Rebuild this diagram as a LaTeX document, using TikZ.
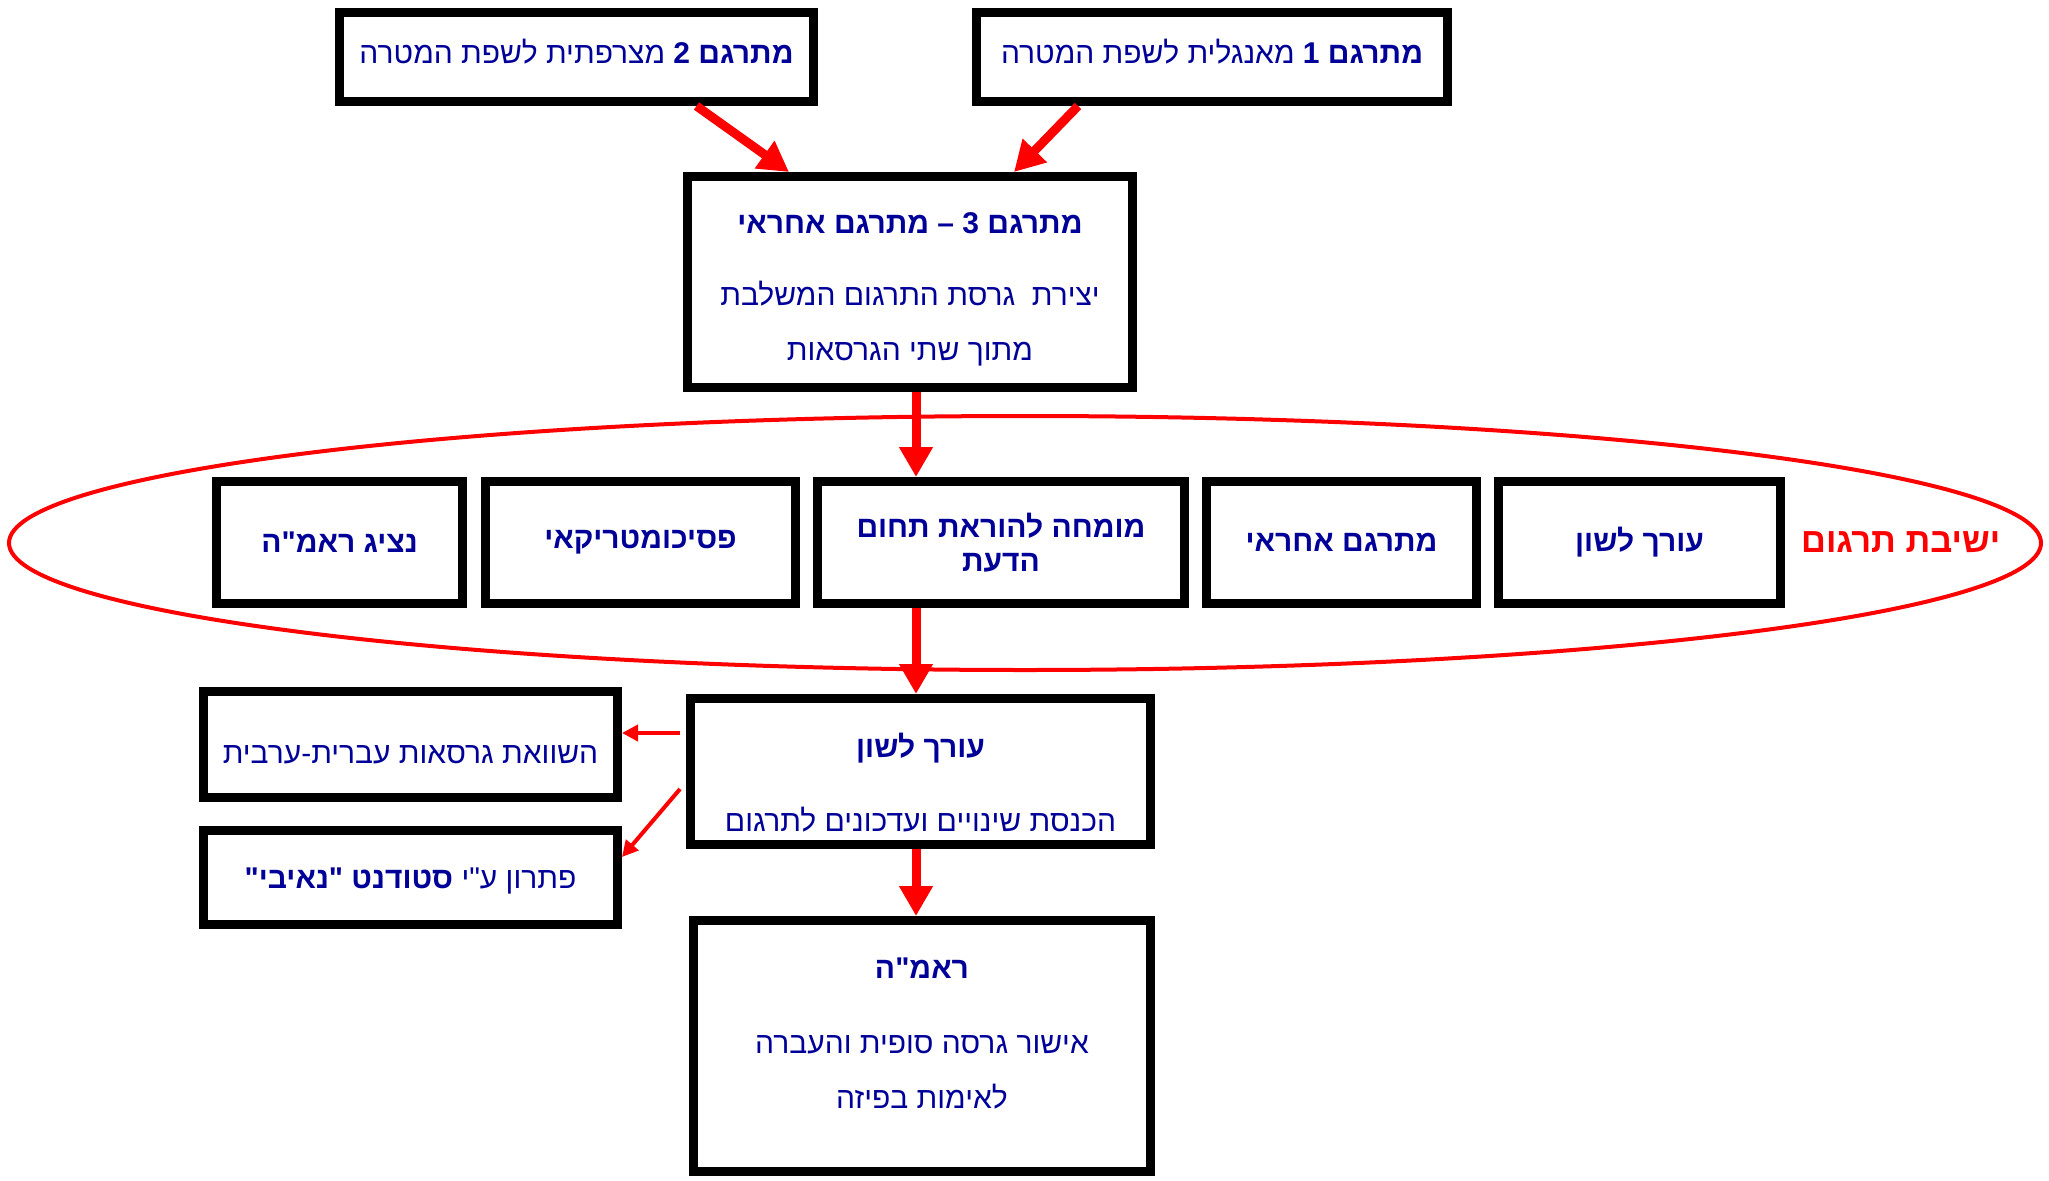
\documentclass[tikz,border=0pt]{standalone}
\usepackage{fontspec}
\setmainfont[Script=Hebrew,Ligatures=TeXOff]{Liberation Sans}
\TeXXeTstate=1
\usetikzlibrary{arrows.meta,positioning}
\definecolor{darkblue}{HTML}{000099}
\newcommand{\heb}[1]{{\beginR #1\endR}}
\tikzset{box/.style={draw, line width=9pt, fill=white, inner sep=0pt, align=center,
    text=darkblue, font=\fontsize{30}{55}\selectfont}}
\tikzset{member/.style={box, minimum height=122pt, font=\fontsize{30}{34}\selectfont\bfseries}}
\tikzset{lift/.style={text depth=0pt, text height=#1}}
\tikzset{fatarrow/.style={draw=red, line width=9pt, -{Triangle[width=32pt,length=30pt]}}}
\tikzset{slimarrow/.style={draw=red, line width=4pt, -{Triangle[width=16pt,length=16pt]}}}

\begin{document}
\begin{tikzpicture}[x=1pt,y=-1pt]
        \useasboundingbox (0,0) rectangle (2049,1180);
        % the translation session
        \draw[red, line width=4pt] (1025,543) ellipse [x radius=1016, y radius=127];
        \node [box, lift=14pt, minimum width=471pt, minimum height=89pt] (t1) at (1212,57) {\heb{\textbf{מתרגם 1} מאנגלית לשפת המטרה}};
        \node [box, lift=14pt, minimum width=474pt, minimum height=89pt] (t2) at (576.5,57) {\heb{\textbf{מתרגם 2} מצרפתית לשפת המטרה}};
        \node [box, minimum width=445pt, minimum height=211pt] (t3) at (910,282) {\rule{0pt}{35pt}\heb{\bfseries מתרגם 3 – מתרגם אחראי}\\[17pt]\heb{יצירת\ \ גרסת התרגום המשלבת}\\\heb{מתוך שתי הגרסאות}};
        \node [member, minimum width=282pt] (lang) at (1639.5,542.5) {\heb{עורך לשון}};
        \node [member, minimum width=270pt, left=13pt of lang] (resp) {\heb{מתרגם אחראי}};
        \node [member, minimum width=367pt, left=13pt of resp] (expert) {\heb{מומחה להוראת תחום}\\\heb{הדעת}};
        \node [member, minimum width=310pt, left=13pt of expert] (psych) {\heb{פסיכומטריקאי}};
        \node [member, minimum width=246pt, left=14pt of psych] (rep) {\heb{נציג ראמ"ה}};
        \node [text=red, inner sep=0pt, font=\fontsize{34.5}{38}\selectfont\bfseries, right=16pt of lang] (session) {\heb{ישיבת תרגום}};
        \node [box, minimum width=460pt, minimum height=146pt] (editor) at (920.5,771.5) {\rule{0pt}{47pt}\heb{\bfseries עורך לשון}\\[19pt]\heb{הכנסת שינויים ועדכונים לתרגום}};
        \node [box, lift=37pt, minimum width=414pt, minimum height=106pt] (compare) at (410.5,744.5) {\heb{השוואת גרסאות עברית-ערבית}};
        \node [box, lift=22pt, minimum width=414pt, minimum height=94pt] (student) at (410.5,877.5) {\heb{פתרון ע"י \textbf{סטודנט "נאיבי"}}};
        \node [box, minimum width=457pt, minimum height=251pt] (final) at (922,1046) {\heb{\bfseries ראמ"ה}\\[20pt]\heb{אישור גרסה סופית והעברה}\\\rule[-25pt]{0pt}{25pt}\heb{לאימות בפיזה}};
        \coordinate (axis) at ([xshift=6pt]t3.south);
        \draw [fatarrow] ([xshift=120pt]t2.south) -- ([xshift=-121pt]t3.north);
        \draw [fatarrow] ([xshift=-134pt]t1.south) -- ([xshift=104pt]t3.north);
        \draw [fatarrow] (axis) -- (axis |- expert.north);
        \draw [fatarrow] (axis |- expert.south) -- (axis |- editor.north);
        \draw [fatarrow] (axis |- editor.south) -- (axis |- final.north);
        \draw [slimarrow] ([xshift=-6pt,yshift=38.5pt]editor.west) -- ([yshift=11.5pt]compare.east);
        \draw [slimarrow] ([xshift=-6pt,yshift=-17.5pt]editor.west) -- ([yshift=20.5pt]student.east);
\end{tikzpicture}
\end{document}
